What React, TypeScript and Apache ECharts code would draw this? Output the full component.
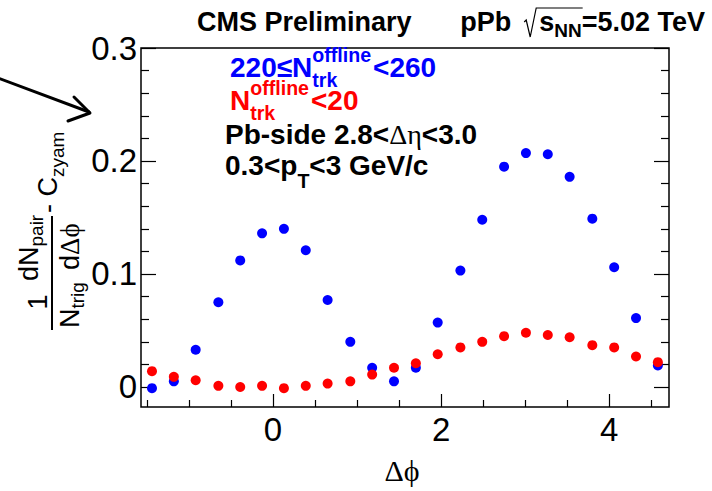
import React, { useEffect, useRef } from "react";
import * as echarts from "echarts";

// ---------------- data ----------------
const dphi = [-1.44, -1.18, -0.92, -0.65, -0.39, -0.13, 0.13, 0.39, 0.65, 0.92, 1.18, 1.44, 1.7, 1.96, 2.23, 2.49, 2.75, 3.01, 3.27, 3.53, 3.8, 4.06, 4.32, 4.58];
const highMult = [-0.001, 0.005, 0.033, 0.075, 0.112, 0.136, 0.14, 0.121, 0.077, 0.04, 0.017, 0.005, 0.017, 0.057, 0.103, 0.148, 0.195, 0.207, 0.206, 0.186, 0.149, 0.106, 0.061, 0.019];
const lowMult = [0.014, 0.009, 0.006, 0.001, 0.0, 0.001, -0.001, 0.001, 0.003, 0.005, 0.011, 0.017, 0.021, 0.029, 0.035, 0.04, 0.045, 0.048, 0.046, 0.044, 0.037, 0.035, 0.027, 0.022];
const xMajor = [0, 2, 4];
const xMinor = [-1.5, -1, -0.5, 0.5, 1, 1.5, 2.5, 3, 3.5, 4.5];
const yMajor = [0, 0.1, 0.2, 0.3];
const yMinor = [0.02, 0.04, 0.06, 0.08, 0.12, 0.14, 0.16, 0.18, 0.22, 0.24, 0.26, 0.28];
const X_MIN = -1.5708;
const X_MAX = 4.7124;
const Y_MIN = -0.0177;
const Y_MAX = 0.3;

const SANS = '"Liberation Sans", Arial, Helvetica, sans-serif';
const SERIF = '"Liberation Serif", "DejaVu Serif", "Times New Roman", serif';
const BLUE = "#0000ff";
const RED = "#ff0000";
const PHI = "\u03d5";

let mctx: CanvasRenderingContext2D | null = null;
function measure(t: string, font: string): number {
  if (!mctx) mctx = document.createElement("canvas").getContext("2d");
  mctx!.font = font;
  return mctx!.measureText(t).width;
}

type Run = { t: string; size: number; dy?: number; weight?: string; family?: string; color?: string; pre?: number; noAdvance?: boolean };

function runs(x0: number, y0: number, list: Run[], color: string, rotate = false) {
  const els: any[] = [];
  let lx = 0;
  for (const r of list) {
    const weight = r.weight ?? "bold";
    const family = r.family ?? SANS;
    const font = `${weight} ${r.size}px ${family}`;
    const w = measure(r.t, font);
    lx += r.pre ?? 0;
    const ly = (r.dy ?? 0) - 0.3465 * r.size;
    const style = {
      text: r.t,
      fill: r.color ?? color,
      fontSize: r.size,
      fontFamily: family,
      fontWeight: weight,
      align: "left",
      textAlign: "left",
      verticalAlign: "middle",
      textVerticalAlign: "middle",
    };
    if (rotate) {
      els.push({ type: "text", x: x0 + ly, y: y0 - lx, rotation: Math.PI / 2, style, silent: true });
    } else {
      els.push({ type: "text", x: x0 + lx, y: y0 + ly, style, silent: true });
    }
    if (!r.noAdvance) lx += w;
  }
  return { els, width: lx };
}

function buildGraphics() {
  const g: any[] = [];
  // ---- title ----
  const TS = 27;
  const SUB = 19;
  const tBase = 31;
  g.push(...runs(197, tBase, [{ t: "CMS Preliminary", size: TS }], "#000").els);
  const rightRuns: Run[] = [
    { t: "s", size: TS },
    { t: "NN", size: SUB, dy: 6 },
    { t: "=5.02 TeV", size: TS },
  ];
  const right = runs(0, tBase, rightRuns, "#000");
  const sStart = 705 - right.width;
  g.push(...runs(sStart, tBase, rightRuns, "#000").els);
  const radL = sStart - 15;
  const overEnd = sStart + right.width - measure("=5.02 TeV", `bold ${TS}px ${SANS}`) + 1;
  g.push({
    type: "polyline",
    silent: true,
    shape: { points: [[radL, 22], [radL + 2, 20], [radL + 6, 37], [radL + 12, 8], [overEnd, 8]] },
    style: { stroke: "#000", lineWidth: 1.2, fill: "none" },
  });
  const pPbW = measure("pPb", `bold ${TS}px ${SANS}`);
  g.push(...runs(radL - 13 - pPbW, tBase, [{ t: "pPb", size: TS }], "#000").els);

  // ---- legend-like labels ----
  const LS = 28;
  const LSUB = 19.6;
  g.push(...runs(230, 77, [
    { t: "220\u2264N", size: LS },
    { t: "trk", size: LSUB, dy: 10, noAdvance: true },
    { t: "offline", size: LSUB, dy: -15 },
    { t: "<260", size: LS, pre: 2 },
  ], BLUE).els);
  g.push(...runs(230, 110, [
    { t: "N", size: LS },
    { t: "trk", size: LSUB, dy: 10, noAdvance: true },
    { t: "offline", size: LSUB, dy: -15 },
    { t: "<20", size: LS, pre: 2 },
  ], RED).els);
  g.push(...runs(225, 144, [
    { t: "Pb-side 2.8<", size: LS },
    { t: "\u0394\u03b7", size: LS, weight: "normal", family: SERIF },
    { t: "<3.0", size: LS },
  ], "#000").els);
  g.push(...runs(225, 175, [
    { t: "0.3<p", size: LS },
    { t: "T", size: LSUB, dy: 13 },
    { t: "<3 GeV/c", size: LS },
  ], "#000").els);

  // ---- y axis title (rotated) ----
  const YS = 27;
  const YSUB = 19;
  g.push({
    type: "text",
    silent: true,
    x: 38,
    y: 302,
    rotation: Math.PI / 2,
    style: { text: "1", fill: "#000", fontSize: YS, fontFamily: SANS, fontWeight: "normal", align: "center", textAlign: "center", verticalAlign: "middle", textVerticalAlign: "middle" },
  });
  g.push({ type: "line", silent: true, shape: { x1: 52, y1: 216, x2: 52, y2: 330 }, style: { stroke: "#000", lineWidth: 2 } });
  g.push(...runs(38, 281, [
    { t: "dN", size: YS, weight: "normal" },
    { t: "pair", size: YSUB, weight: "normal", dy: 5 },
  ], "#000", true).els);
  g.push(...runs(79, 328, [
    { t: "N", size: YS, weight: "normal" },
    { t: "trig", size: YSUB, weight: "normal", dy: 5 },
  ], "#000", true).els);
  g.push(...runs(79, 270, [
    { t: "d", size: YS, weight: "normal" },
    { t: "\u0394" + PHI, size: YS, weight: "normal", family: SERIF },
  ], "#000", true).els);
  g.push(...runs(57, 213, [
    { t: "- C", size: YS, weight: "normal" },
    { t: "zyam", size: YSUB, weight: "normal", dy: 7 },
  ], "#000", true).els);

  // ---- x axis title ----
  g.push({
    type: "text",
    silent: true,
    x: 402,
    y: 470,
    style: { text: "\u0394" + PHI, fill: "#000", fontSize: 30, fontFamily: SERIF, fontWeight: "normal", align: "center", textAlign: "center", verticalAlign: "middle", textVerticalAlign: "middle" },
  });

  // ---- arrow ----
  g.push({ type: "line", silent: true, shape: { x1: -2, y1: 78, x2: 89, y2: 112 }, style: { stroke: "#000", lineWidth: 3, lineCap: "round" } });
  g.push({ type: "polyline", silent: true, shape: { points: [[74, 97], [90, 113], [68, 121]] }, style: { stroke: "#000", lineWidth: 3, fill: "none", lineCap: "round", lineJoin: "round" } });
  return g;
}

function yAx(position: "left" | "right", ticks: number[], len: number, labels: boolean) {
  return {
    type: "value",
    min: Y_MIN,
    max: Y_MAX,
    position,
    axisLine: { show: false, onZero: false },
    splitLine: { show: false },
    axisTick: { show: true, inside: true, length: len, customValues: ticks, lineStyle: { color: "#000", width: 1.2 } },
    axisLabel: labels
      ? { show: true, customValues: yMajor, color: "#000", fontSize: 33, fontFamily: SANS, margin: 4, formatter: (v: number) => String(+v.toFixed(2)) }
      : { show: false },
  };
}

function xAx(ticks: number[], len: number, labels: boolean) {
  return {
    type: "value",
    min: X_MIN,
    max: X_MAX,
    position: "bottom",
    axisLine: { show: false, onZero: false },
    splitLine: { show: false },
    axisTick: { show: true, inside: true, length: len, customValues: ticks, lineStyle: { color: "#000", width: 1.2 } },
    axisLabel: labels
      ? { show: true, customValues: xMajor, color: "#000", fontSize: 33, fontFamily: SANS, margin: 6, formatter: (v: number) => String(v) }
      : { show: false },
  };
}

export default function App() {
  const ref = useRef<HTMLDivElement>(null);
  useEffect(() => {
    document.body.style.margin = "0";
    const chart = echarts.init(ref.current!, undefined, { renderer: "svg" });
    chart.setOption({
      animation: false,
      backgroundColor: "#ffffff",
      grid: { left: 141, top: 48, right: 43, bottom: 84, show: true, borderColor: "#000", borderWidth: 1.5, backgroundColor: "transparent" },
      xAxis: [xAx(xMajor, 13, true), xAx(xMinor, 7, false)],
      yAxis: [yAx("left", yMajor, 15, true), yAx("right", yMajor, 15, false), yAx("left", yMinor, 8, false), yAx("right", yMinor, 8, false)],
      series: [
        {
          type: "scatter",
          name: "220<=Ntrk<260",
          data: dphi.map((x, i) => [x, highMult[i]]),
          symbolSize: 10,
          itemStyle: { color: BLUE, opacity: 1 },
          xAxisIndex: 0,
          yAxisIndex: 0,
        },
        {
          type: "scatter",
          name: "Ntrk<20",
          data: dphi.map((x, i) => [x, lowMult[i]]),
          symbolSize: 10,
          itemStyle: { color: RED, opacity: 1 },
          xAxisIndex: 0,
          yAxisIndex: 0,
        },
      ],
      graphic: buildGraphics(),
    });
    return () => chart.dispose();
  }, []);
  return <div ref={ref} style={{ position: "fixed", left: 0, top: 0, width: 712, height: 491 }} />;
}
